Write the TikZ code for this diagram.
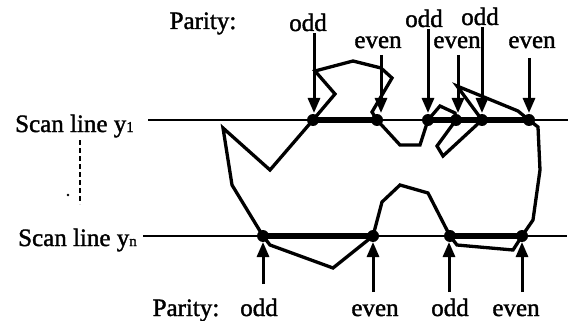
\documentclass[tikz,border=0pt]{standalone}
\usepackage{fontspec}
\setmainfont{Liberation Serif}[FakeBold=1.5]
\usetikzlibrary{arrows.meta}
\begin{document}
\begin{tikzpicture}[x=1pt,y=-1pt,
  lbl/.style={anchor=base,inner sep=0pt,font=\fontsize{25}{27}\selectfont},
  scan/.style={line width=2.2pt},
  span/.style={line width=6.5pt},
  poly/.style={line width=3.3pt,line join=miter},
  dot/.style={circle,fill=black,inner sep=0pt,minimum size=12pt},
  arr/.style={line width=3pt,-{Triangle[length=15pt,width=12pt]}}]
\useasboundingbox (0,0) rectangle (571,321);
% scan line labels
\node[lbl,anchor=base west] (s1) at (15,132) {Scan line y{\fontsize{15}{15}\selectfont 1}};
\node[lbl,anchor=base west] (sn) at (18,246) {Scan line y{\fontsize{15}{15}\selectfont n}};
\coordinate (d1) at (80,140);
\coordinate (d2) at (80,204);
\draw[line width=2pt,dash pattern=on 5pt off 3pt] (d1) -- (d2);
\fill (68,195) circle (1.4pt);
% scan lines
\coordinate (L1) at (148,120); \coordinate (R1) at (568,120);
\coordinate (L2) at (143,236); \coordinate (R2) at (567,236);
\draw[scan] (L1) -- (R1);
\draw[scan] (L2) -- (R2);
% intersection points
\coordinate (t1) at (313,120); \coordinate (t2) at (377,120);
\coordinate (t3) at (428,120); \coordinate (t4) at (456,120);
\coordinate (t5) at (482,120); \coordinate (t6) at (529,120);
\coordinate (b1) at (263,236); \coordinate (b2) at (373,236);
\coordinate (b3) at (450,236); \coordinate (b4) at (522,236);
% spans
\draw[span] (t1) -- (t2);
\draw[span] (t3) -- (t6);
\draw[span] (b1) -- (b2);
\draw[span] (b3) -- (b4);
% polygon
\draw[poly] (t1) -- (335,94) -- (315,71) -- (353,61) -- (381,68) -- (392,78)
  -- (372,112) -- (t2) -- (400,145) -- (420,145) -- (t3) -- (440,106)
  -- (455,113) -- (t4) -- (437,146) -- (443,156) -- (t5) -- (457,86)
  -- (518,111) -- (t6) -- (538,127) -- (540,170) -- (533,220) -- (b4)
  -- (513,250) -- (457,245) -- (b3) -- (428,193) -- (400,185) -- (382,202)
  -- (b2) -- (333,268) -- (270,245) -- (b1) -- (232,185) -- (223,128)
  -- (270,170) -- cycle;
% dots
\foreach \p in {t1,t2,t3,t4,t5,t6,b1,b2,b3,b4} \node[dot] (n\p) at (\p) {};
% top labels and arrows
\node[lbl] (pt) at (203,29) {Parity:};
\node[lbl] (o1) at (308,31) {odd};
\node[lbl] (e1) at (378,48) {even};
\node[lbl] (o2) at (424,27) {odd};
\node[lbl] (e2) at (457,48) {even};
\node[lbl] (o3) at (480,25) {odd};
\node[lbl] (e3) at (532,48) {even};
\coordinate (a1) at (314,33); \coordinate (a1t) at (314,113);
\coordinate (a2) at (381,55); \coordinate (a2t) at (381,113);
\coordinate (a3) at (428,29); \coordinate (a3t) at (428,113);
\coordinate (a4) at (458,55); \coordinate (a4t) at (458,113);
\coordinate (a5) at (482,27); \coordinate (a5t) at (482,113);
\coordinate (a6) at (529,58); \coordinate (a6t) at (529,113);
\foreach \a in {1,...,6} \draw[arr] (a\a) -- (a\a t);
% bottom labels and arrows
\node[lbl] (pb) at (186,316) {Parity:};
\node[lbl] (bo1) at (259,316) {odd};
\node[lbl] (be1) at (375,316) {even};
\node[lbl] (bo2) at (450,316) {odd};
\node[lbl] (be2) at (516,316) {even};
\coordinate (c1) at (263,284); \coordinate (c1t) at (263,242);
\coordinate (c2) at (373,292); \coordinate (c2t) at (373,242);
\coordinate (c3) at (449,292); \coordinate (c3t) at (449,242);
\coordinate (c4) at (522,292); \coordinate (c4t) at (522,242);
\foreach \a in {1,...,4} \draw[arr] (c\a) -- (c\a t);
\end{tikzpicture}
\end{document}
